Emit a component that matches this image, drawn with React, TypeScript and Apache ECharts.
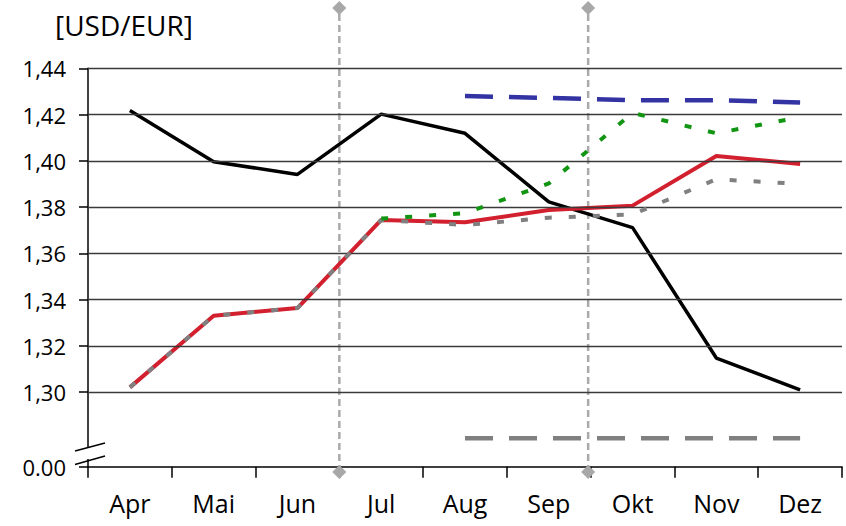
import React, { useEffect, useRef } from "react";
import * as echarts from "echarts";

const months = ["Apr", "Mai", "Jun", "Jul", "Aug", "Sep", "Okt", "Nov", "Dez"];
const actualRate = [1.4217, 1.3996, 1.3941, 1.4202, 1.4119, 1.3822, 1.3711, 1.3147, 1.3009];
const redSeries = [1.302, 1.333, 1.3363, 1.3744, 1.3734, 1.3787, 1.3806, 1.4021, 1.3986];
const greyDotted = [1.302, 1.333, 1.3363, 1.3744, 1.3722, 1.3754, 1.3768, 1.392, 1.39];
const greenDashed = [null, null, null, 1.375, 1.3773, 1.3902, 1.4207, 1.4119, 1.4189];
const blueDashed = [null, null, null, null, 1.428, 1.4272, 1.4262, 1.4262, 1.4252];
const greyLongDashed = [null, null, null, null, 1.28, 1.28, 1.28, 1.28, 1.28];
const yTicks = [1.3, 1.32, 1.34, 1.36, 1.38, 1.4, 1.42, 1.44];
const axisFloor = 1.2677;
const floorLabel = "0.00";
const verticalMarkers = [3, 5.97];

const FONT = "'Open Sans', 'Noto Sans', sans-serif";

export default function App() {
  const ref = useRef<HTMLDivElement>(null);
  useEffect(() => {
    if (!ref.current) return;
    const chart = echarts.init(ref.current, null, { renderer: "svg" });
    const toNull = (a: (number | null)[]) => a.map((v) => (v == null ? "-" : v));
    const option: any = {
      animation: false,
      backgroundColor: "#ffffff",
      title: {
        text: "[USD/EUR]",
        left: 50,
        top: 6,
        textStyle: { fontFamily: FONT, fontSize: 28, fontWeight: "normal", color: "#000" },
      },
      grid: [
        { left: 88, right: 4, top: 68.3, bottom: 59.3, containLabel: false },
        { left: 88, right: 4, top: 8, bottom: 54, containLabel: false },
      ],
      xAxis: [
        {
          type: "category",
          gridIndex: 0,
          data: months,
          boundaryGap: true,
          axisLine: { lineStyle: { color: "#000", width: 1.5 } },
          axisTick: { show: true, length: 11, lineStyle: { color: "#000", width: 1.5 } },
          axisLabel: { color: "#000", fontFamily: FONT, fontSize: 25, margin: 24 },
          splitLine: { show: false },
        },
        {
          type: "value",
          gridIndex: 1,
          min: 0,
          max: 9,
          show: false,
        },
      ],
      yAxis: [
        {
          type: "value",
          gridIndex: 0,
          min: axisFloor,
          max: 1.44,
          axisLine: { show: true, lineStyle: { color: "#000", width: 1.5 } },
          axisTick: {
            show: true,
            inside: false,
            length: 9,
            customValues: [axisFloor, ...yTicks],
            lineStyle: { color: "#000", width: 1.5 },
          },
          axisLabel: {
            customValues: [axisFloor, ...yTicks],
            color: "#000",
            fontFamily: FONT,
            fontSize: 22,
            margin: 22,
            formatter: (v: number) => (v < 1.29 ? floorLabel : v.toFixed(2).replace(".", ",")),
          },
          splitLine: { show: false },
        },
        { type: "value", gridIndex: 1, min: 0, max: 1, show: false },
      ],
      graphic: [
        { type: "rect", shape: { x: 83, y: 447, width: 10, height: 12 }, style: { fill: "#fff" }, z: 100 },
        { type: "line", shape: { x1: 75, y1: 451, x2: 105, y2: 443 }, style: { stroke: "#000", lineWidth: 1.5 }, z: 101 },
        { type: "line", shape: { x1: 75, y1: 464.5, x2: 105, y2: 456 }, style: { stroke: "#000", lineWidth: 1.5 }, z: 101 },
      ],
      series: [
        {
          name: "gridlines",
          type: "line",
          xAxisIndex: 0,
          yAxisIndex: 0,
          data: months.map(() => "-"),
          z: 1,
          silent: true,
          markLine: {
            silent: true,
            symbol: "none",
            label: { show: false },
            lineStyle: { color: "#3a3a3a", width: 1.3, type: "solid" },
            data: yTicks.map((v) => ({ yAxis: v })),
          },
        },
        ...verticalMarkers.map((x) => ({
          type: "line",
          xAxisIndex: 1,
          yAxisIndex: 1,
          data: [
            [x, 0],
            [x, 1],
          ],
          symbol: "diamond",
          symbolSize: 14,
          itemStyle: { color: "#a8a8a8" },
          lineStyle: { color: "#aaaaaa", width: 2.5, type: [7, 4] },
          z: 2,
          silent: true,
        })),
        {
          name: "Ist",
          type: "line",
          data: actualRate,
          symbol: "none",
          lineStyle: { color: "#000", width: 3.5 },
          z: 3,
        },
        {
          name: "rot",
          type: "line",
          data: redSeries,
          symbol: "none",
          lineStyle: { color: "#d2202f", width: 4 },
          z: 4,
        },
        {
          name: "grau gepunktet",
          type: "line",
          data: greyDotted,
          symbol: "none",
          lineStyle: { color: "#808080", width: 4, type: [7, 17] },
          z: 5,
        },
        {
          name: "grün",
          type: "line",
          data: toNull(greenDashed),
          symbol: "none",
          lineStyle: { color: "#129512", width: 4, type: [7, 17] },
          z: 6,
        },
        {
          name: "blau",
          type: "line",
          data: toNull(blueDashed),
          symbol: "none",
          lineStyle: { color: "#3333a3", width: 4.5, type: [28, 16] },
          z: 6,
        },
        {
          name: "grau lang",
          type: "line",
          data: toNull(greyLongDashed),
          symbol: "none",
          lineStyle: { color: "#808080", width: 4.5, type: [28, 16] },
          z: 6,
        },
      ],
    };
    chart.setOption(option);
    return () => chart.dispose();
  }, []);
  return <div ref={ref} style={{ width: 846, height: 526, position: "absolute", left: 0, top: 0 }} />;
}
